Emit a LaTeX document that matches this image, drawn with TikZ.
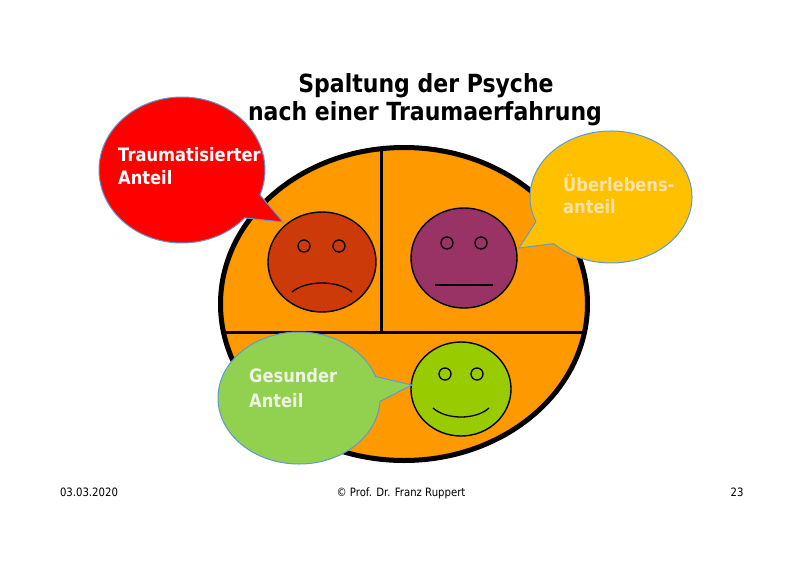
\documentclass[tikz,border=0pt]{standalone}
\usepackage{fontspec}
\setmainfont{DejaVu Sans}[FakeStretch=0.88]
\usetikzlibrary{calc}
\definecolor{discorange}{HTML}{FF9900}
\definecolor{sadred}{HTML}{CC3A0A}
\definecolor{neutralpurple}{HTML}{993366}
\definecolor{happygreen}{HTML}{99CC00}
\definecolor{bubblered}{HTML}{FF0000}
\definecolor{bubbleyellow}{HTML}{FFC000}
\definecolor{bubblegreen}{HTML}{92D050}
\definecolor{bubbleline}{HTML}{5B9BD5}
\definecolor{yellowtext}{HTML}{FBE3A8}
\definecolor{greentext}{HTML}{EEF3E4}
\tikzset{
  facebox/.style={draw=black, line width=1.4},
  eyebox/.style={draw=black, line width=1.3},
  mouthline/.style={draw=black, line width=1.3},
  bubblebox/.style={draw=bubbleline, line width=1},
  bubbletext/.style={anchor=base west, inner sep=0, font=\fontsize{18.5}{22}\selectfont\bfseries},
  titletext/.style={anchor=base, inner sep=0, font=\fontsize{25}{29}\selectfont\bfseries},
  foottext/.style={anchor=base, inner sep=0, font=\fontsize{11.5}{14}\selectfont},
}
\begin{document}
\begin{tikzpicture}[x=1pt,y=-1pt]
\useasboundingbox (0,0) rectangle (800,565);
\fill[white] (0,0) rectangle (800,565);

% title
\node[titletext] (title1) at (426,92) {Spaltung der Psyche};
\node[titletext] (title2) at (425,120) {nach einer Traumaerfahrung};

% big disc
\fill[discorange] (404,304) ellipse [x radius=183.5, y radius=156.5];
\begin{scope}
  \clip (404,304) ellipse [x radius=183.5, y radius=156.5];
  \draw[line width=3] (381,100) -- (381,332);
  \draw[line width=3] (150,332) -- (650,332);
\end{scope}
\draw[line width=5] (404,304) ellipse [x radius=183.5, y radius=156.5];

% sad face
\draw[facebox, fill=sadred] (322,262) ellipse [x radius=54, y radius=50];
\draw[eyebox, fill=sadred] (304,246) circle [radius=6];
\draw[eyebox, fill=sadred] (339,246) circle [radius=6];
\draw[mouthline] (292,292) .. controls (306,280) and (338,280) .. (352,292);

% neutral face
\draw[facebox, fill=neutralpurple] (464,258) ellipse [x radius=53, y radius=50];
\draw[eyebox, fill=neutralpurple] (447,243) circle [radius=6];
\draw[eyebox, fill=neutralpurple] (481,243) circle [radius=6];
\draw[mouthline] (435,285) -- (493,285);

% happy face
\draw[facebox, fill=happygreen] (461,389) ellipse [x radius=50, y radius=47];
\draw[eyebox, fill=happygreen] (445,374) circle [radius=6];
\draw[eyebox, fill=happygreen] (477,374) circle [radius=6];
\draw[mouthline] (433,408) .. controls (446,420) and (476,420) .. (489,408);

% red bubble
\draw[bubblebox, fill=bubblered]
  ($(182,170)+(41:83 and 73)$) arc [start angle=41, end angle=380, x radius=83, y radius=73]
  -- (283,222) -- cycle;
\node[bubbletext, text=white] (redtext1) at (118,161) {Traumatisierter};
\node[bubbletext, text=white] (redtext2) at (118,184) {Anteil};

% yellow bubble
\draw[bubblebox, fill=bubbleyellow]
  ($(611,197)+(158:81 and 66)$) arc [start angle=158, end angle=495, x radius=81, y radius=66]
  -- (519,248) -- cycle;
\node[bubbletext, text=yellowtext] (yellowtext1) at (563,191) {Überlebens-};
\node[bubbletext, text=yellowtext] (yellowtext2) at (563,213) {anteil};

% green bubble
\draw[bubblebox, fill=bubblegreen]
  ($(299,398)+(3:81 and 66)$) arc [start angle=3, end angle=341, x radius=81, y radius=66]
  -- (412,385) -- cycle;
\node[bubbletext, text=greentext] (greentext1) at (249,382) {Gesunder};
\node[bubbletext, text=greentext] (greentext2) at (249,407) {Anteil};

% footer
\node[foottext] (date) at (89,496) {03.03.2020};
\node[foottext] (author) at (401,496) {© Prof. Dr. Franz Ruppert};
\node[foottext] (page) at (737,496) {23};
\end{tikzpicture}
\end{document}
